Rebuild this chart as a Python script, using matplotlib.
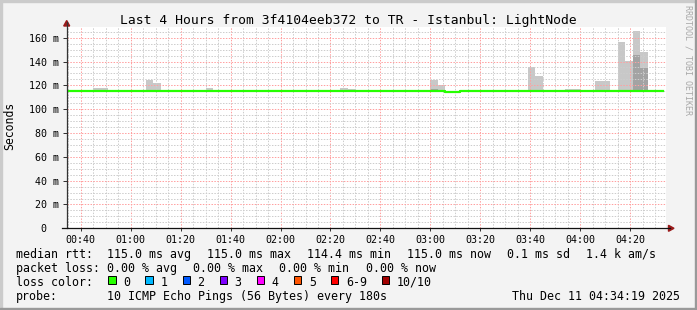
import matplotlib
matplotlib.use('Agg')
import matplotlib.pyplot as plt
from matplotlib.patches import Rectangle, Polygon
from matplotlib.lines import Line2D
from matplotlib.ticker import MultipleLocator, FuncFormatter

# --- datos (tiempos en HH:MM, valores en ms) ---
view_start = "00:34:19"
view_end = "04:34:19"

median_times = ["00:33", "03:06", "03:09", "03:12", "04:33"]
median_rtt = [115.0, 114.4, 114.7, 115.0, 115.0]

smoke_bins = ["00:45", "00:48", "01:06", "01:09", "01:30", "02:24", "02:27",
              "03:00", "03:03", "03:39", "03:42", "03:54", "03:57", "04:06",
              "04:09", "04:12", "04:15", "04:18", "04:21", "04:24"]
smoke_min = [115.0, 115.0, 115.0, 115.0, 115.0, 115.0, 115.0,
             115.0, 115.0, 115.0, 115.0, 115.0, 115.0, 115.0,
             115.0, 115.0, 115.0, 115.0, 115.0, 115.0]
smoke_max = [117.4, 117.4, 124.1, 121.6, 117.4, 118.2, 117.2,
             124.9, 120.3, 135.7, 127.7, 116.6, 116.6, 123.5,
             123.5, 116.3, 156.7, 140.8, 165.9, 148.4]

core_bins = ["03:00", "04:21", "04:24"]
core_min = [115.0, 115.5, 115.5]
core_max = [116.8, 145.3, 134.4]

loss_labels = ["0", "1", "2", "3", "4", "5", "6-9", "10/10"]
loss_colors = ["#26ff00", "#00b8ff", "#0059ff", "#7e00ff",
               "#ff00ff", "#ff5500", "#ff0000", "#a10000"]

y_ticks = [0, 20, 40, 60, 80, 100, 120, 140, 160]


def minutos(s):
    partes = [int(p) for p in s.split(':')]
    m = partes[0] * 60 + partes[1]
    if len(partes) > 2:
        m += partes[2] / 60.0
    return m


W, H = 697, 310
BG = '#f3f3f3'
MONO = 'DejaVu Sans Mono'
plt.rcParams['font.family'] = MONO

fig = plt.figure(figsize=(W / 100, H / 100), dpi=100, facecolor=BG)


def px(x, y):
    return x / W, 1 - y / H


x0, x1 = 66.5, 666.0
y0, y1 = 228.3, 27.0
ax = fig.add_axes([x0 / W, 1 - y0 / H, (x1 - x0) / W, (y0 - y1) / H])
ax.set_facecolor('white')

# humo (distribucion de pings)
xs = [minutos(t) for t in smoke_bins]
ax.bar(xs, [hi - lo for lo, hi in zip(smoke_min, smoke_max)], bottom=smoke_min,
       width=3, align='edge', color='#c8c8c8', linewidth=0, zorder=1)
xc = [minutos(t) for t in core_bins]
ax.bar(xc, [hi - lo for lo, hi in zip(core_min, core_max)], bottom=core_min,
       width=3, align='edge', color='#a3a3a3', linewidth=0, zorder=1.2)

# mediana
ax.step([minutos(t) for t in median_times], median_rtt, where='post',
        color='#26ff00', linewidth=1.6, zorder=4)

ax.set_xlim(minutos(view_start), minutos(view_end))
ax.set_ylim(0, 169)

ax.xaxis.set_major_locator(MultipleLocator(20))
ax.xaxis.set_minor_locator(MultipleLocator(5))
ax.yaxis.set_major_locator(MultipleLocator(20))
ax.yaxis.set_minor_locator(MultipleLocator(5))
ax.set_yticks(y_ticks)
ax.xaxis.set_major_formatter(FuncFormatter(lambda v, p: "%02d:%02d" % (int(v) // 60, int(v) % 60)))
ax.yaxis.set_major_formatter(FuncFormatter(lambda v, p: "0  " if v == 0 else "%d m" % v))

ax.set_axisbelow(False)
ax.grid(which='minor', color='#cdcdcd', linestyle=(0, (1.44, 1.44)), linewidth=0.72)
ax.grid(which='major', color='#ffa0a0', linestyle=(0, (1.44, 1.44)), linewidth=0.72)

for s in ax.spines.values():
    s.set_visible(False)
ax.tick_params(axis='both', which='major', labelsize=7.2, colors='#333333')
ax.tick_params(axis='y', which='major', length=3, width=0.72, pad=2.4, labelcolor='black')
ax.tick_params(axis='x', which='major', length=2.5, width=0.72, pad=2.2, labelcolor='black')
ax.tick_params(which='minor', length=0)

# ejes con flechas
fig.add_artist(Line2D([px(x0, 0)[0]] * 2, [px(0, y0)[1], px(0, 22)[1]], color='#333333', lw=0.9))
fig.add_artist(Line2D([px(62, 0)[0], px(670, 0)[0]], [px(0, y0)[1]] * 2, color='#111111', lw=0.9))
fig.add_artist(Polygon([px(66.7, 20.5), px(63.7, 26), px(69.7, 26)], closed=True,
                       color='#9a1a1a', transform=fig.transFigure))
fig.add_artist(Polygon([px(674, y0), px(668.5, y0 - 3), px(668.5, y0 + 3)], closed=True,
                       color='#9a1a1a', transform=fig.transFigure))

# titulo y etiquetas
fig.text(*px(348, 24), "Last 4 Hours from 3f4104eeb372 to TR - Istanbul: LightNode",
         ha='center', va='baseline', fontsize=9.4)
fig.text(*px(10, 126), "Seconds", rotation=90, ha='center', va='center', fontsize=8.3)
fig.text(*px(688, 60), "RRDTOOL / TOBI OETIKER", rotation=270, ha='center', va='center',
         fontsize=6, color='#a8a8a8')

# leyenda
fs = 8.4
rows = [257.7, 271.7, 285.7, 299.7]
fig.text(*px(16, rows[0]), "median rtt:", fontsize=fs, va='baseline')
rtt_items = [(107.3, "115.0 ms avg"), (207.3, "115.0 ms max"), (307.3, "114.4 ms min"),
             (407.3, "115.0 ms now"), (507.3, "0.1 ms sd"), (585.7, "1.4 k am/s")]
for xx, tt in rtt_items:
    fig.text(*px(xx, rows[0]), tt, fontsize=fs, va='baseline')

fig.text(*px(16, rows[1]), "packet loss:", fontsize=fs, va='baseline')
loss_items = [(107.3, "0.00 % avg"), (193.3, "0.00 % max"), (279.3, "0.00 % min"), (366, "0.00 % now")]
for xx, tt in loss_items:
    fig.text(*px(xx, rows[1]), tt, fontsize=fs, va='baseline')

fig.text(*px(16, rows[2]), "loss color:", fontsize=fs, va='baseline')
bx = 108.3
for lab, col in zip(loss_labels, loss_colors):
    fig.add_artist(Rectangle(px(bx, 283.5), 7.3 / W, 7.3 / H, facecolor=col,
                             edgecolor='black', linewidth=0.7, transform=fig.transFigure))
    fig.text(*px(bx + 15, rows[2]), lab, fontsize=fs, va='baseline')
    bx += 30.1 + 7 * len(lab)

fig.text(*px(16, rows[3]), "probe:", fontsize=fs, va='baseline')
fig.text(*px(107.3, rows[3]), "10 ICMP Echo Pings (56 Bytes) every 180s", fontsize=fs, va='baseline')
fig.text(*px(680, rows[3]), "Thu Dec 11 04:34:19 2025", fontsize=fs, va='baseline', ha='right')

# marco
fig.add_artist(Rectangle((0, 1 - 2 / H), 1, 2 / H, color='#cbcbcb', transform=fig.transFigure))
fig.add_artist(Rectangle((0, 0), 2 / W, 1, color='#cbcbcb', transform=fig.transFigure))
fig.add_artist(Rectangle((0, 0), 1, 2 / H, color='#999999', transform=fig.transFigure))
fig.add_artist(Rectangle((1 - 2 / W, 0), 2 / W, 1, color='#999999', transform=fig.transFigure))

fig.savefig('out.png', dpi=100, facecolor=BG)
